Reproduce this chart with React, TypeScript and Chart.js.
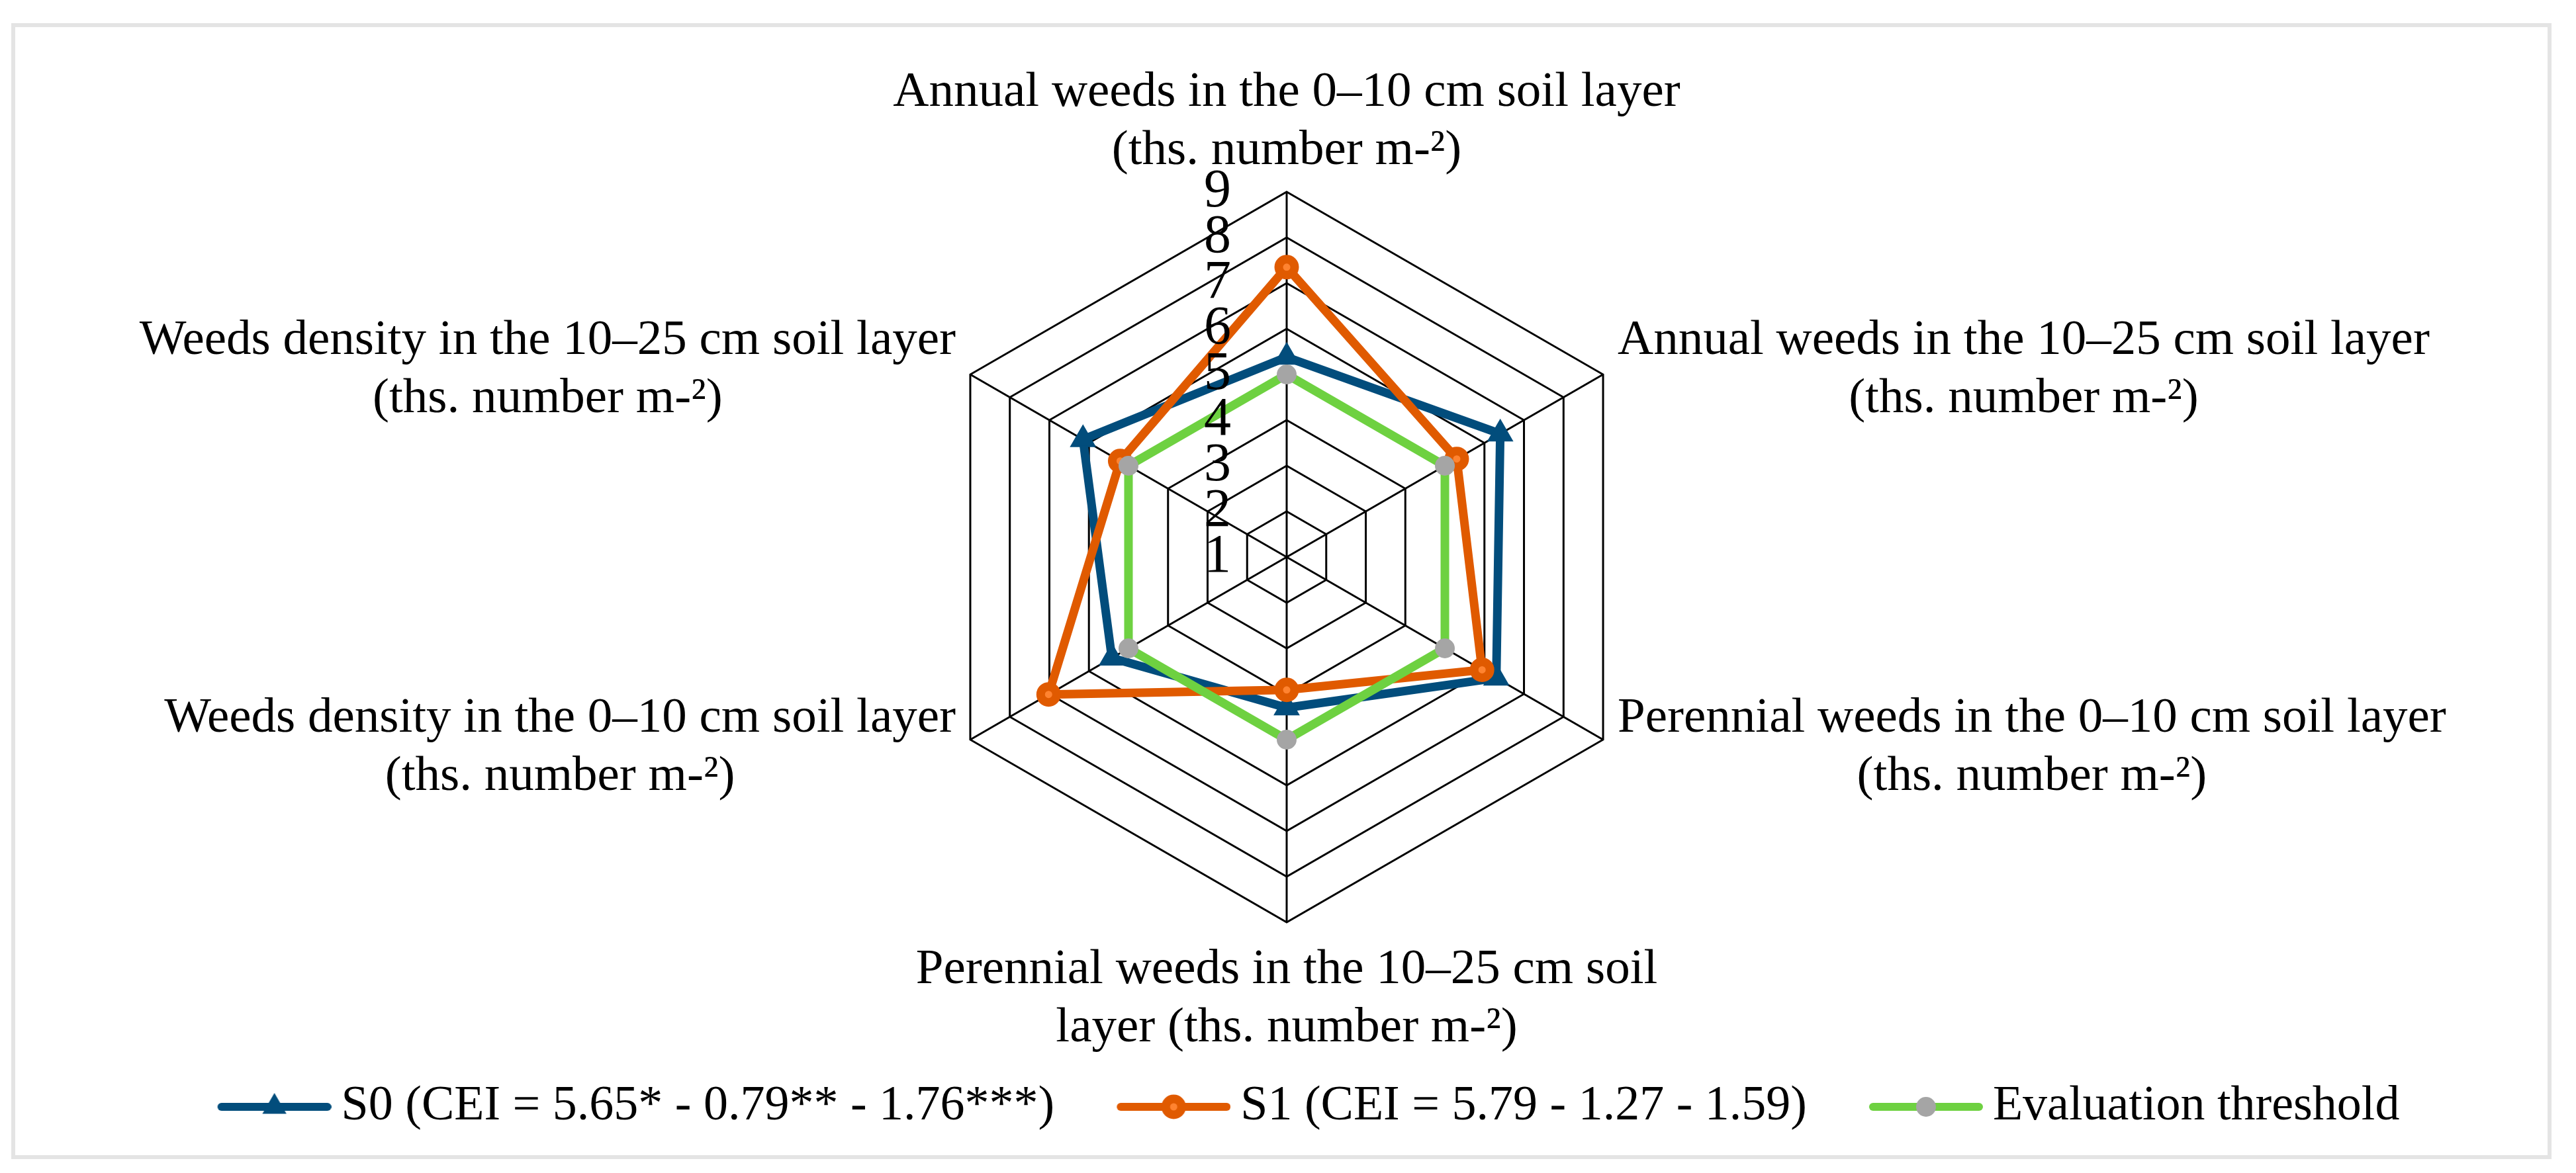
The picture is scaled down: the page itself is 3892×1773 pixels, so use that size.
import React, { useEffect, useRef } from "react";
import { Chart, registerables } from "chart.js";

Chart.register(...registerables);

// ---------- data ----------
const CATEGORY_LINES: string[][] = [
  ["Annual weeds in the 0–10 cm soil layer", "(ths. number m-²)"],
  ["Annual weeds in the 10–25 cm soil layer", "(ths. number m-²)"],
  ["Perennial weeds in the 0–10 cm soil layer", "(ths. number m-²)"],
  ["Perennial weeds in the 10–25 cm soil", "layer (ths. number m-²)"],
  ["Weeds density in the 0–10 cm soil layer", "(ths. number m-²)"],
  ["Weeds density in the 10–25 cm soil layer", "(ths. number m-²)"],
];
const S0_VALUES = [5.38, 6.4, 6.3, 4.3, 5.42, 6.15];
const S1_VALUES = [7.35, 5.3, 5.94, 3.91, 7.02, 5.21];
const THRESHOLD_VALUES = [5, 5, 5, 5, 5, 5];
const SERIES_NAMES = [
  "S0 (CEI = 5.65* - 0.79** - 1.76***)",
  "S1 (CEI = 5.79 - 1.27 - 1.59)",
  "Evaluation threshold",
];
const AXIS_MIN = 1;
const AXIS_MAX = 9;
const AXIS_STEP = 1;

// ---------- styles ----------
const FONT = '"Liberation Serif", "Times New Roman", serif';
const BLUE = "#024D7C";
const ORANGE = "#E05A00";
const ORANGE_LIGHT = "#FF8330";
const GREEN = "#6ED141";
const GRAY = "#A5A5A5";
const LABEL_SIZE = 75;
const LEGEND_SIZE = 74;
const TICK_SIZE = 82;
const LINE_H = 88;
const SERIES_LINE_W = 13;

// legend geometry
const LEG_PAD = -30;
const LEG_BOX = 274;
const ICON_W = 318;
const ICON_LINE_START = 146; // visible line from 146 to 318 in icon canvas

function makeIcon(kind: number): HTMLCanvasElement {
  const c = document.createElement("canvas");
  c.width = ICON_W;
  c.height = 48;
  const g = c.getContext("2d")!;
  const cy = 24;
  const x0 = ICON_LINE_START;
  const x1 = ICON_W;
  const color = kind === 0 ? BLUE : kind === 1 ? ORANGE : GREEN;
  g.strokeStyle = color;
  g.lineWidth = 12;
  g.lineCap = "round";
  g.beginPath();
  g.moveTo(x0 + 6, cy);
  g.lineTo(x1 - 6, cy);
  g.stroke();
  const cx = (x0 + x1) / 2;
  if (kind === 0) {
    const r = 21;
    g.fillStyle = BLUE;
    g.beginPath();
    g.moveTo(cx, cy - r);
    g.lineTo(cx + r * Math.sin((2 * Math.PI) / 3), cy - r * Math.cos((2 * Math.PI) / 3));
    g.lineTo(cx + r * Math.sin((4 * Math.PI) / 3), cy - r * Math.cos((4 * Math.PI) / 3));
    g.closePath();
    g.fill();
  } else if (kind === 1) {
    g.fillStyle = ORANGE_LIGHT;
    g.strokeStyle = ORANGE;
    g.lineWidth = 13;
    g.beginPath();
    g.arc(cx, cy, 12, 0, Math.PI * 2);
    g.fill();
    g.stroke();
  } else {
    g.fillStyle = GRAY;
    g.beginPath();
    g.arc(cx, cy, 15, 0, Math.PI * 2);
    g.fill();
  }
  return c;
}

const labelPlugin = {
  id: "customRadarLabels",
  afterDraw(chart: any) {
    const scale = chart.scales.r;
    const ctx: CanvasRenderingContext2D = chart.ctx;
    ctx.save();
    ctx.fillStyle = "#000";
    // tick labels, to the left of the top spoke
    ctx.font = `${TICK_SIZE}px ${FONT}`;
    ctx.textAlign = "right";
    ctx.textBaseline = "middle";
    scale.ticks.forEach((t: any) => {
      const p = scale.getPointPositionForValue(0, t.value);
      ctx.fillText(String(t.value), p.x - 84, p.y);
    });
    // category labels
    ctx.font = `${LABEL_SIZE}px ${FONT}`;
    ctx.textAlign = "center";
    ctx.textBaseline = "alphabetic";
    CATEGORY_LINES.forEach((lines, i) => {
      const v = scale.getPointPosition(i, scale.drawingArea);
      const maxW = Math.max(...lines.map((l) => ctx.measureText(l).width));
      let cx = v.x;
      let base = v.y;
      if (i === 0) {
        base = v.y - 42 - LINE_H * (lines.length - 1);
      } else if (i === 3) {
        base = v.y + 92;
      } else {
        const right = i === 1 || i === 2;
        const upper = i === 1 || i === 5;
        cx = right ? v.x + 22 + maxW / 2 : v.x - 22 - maxW / 2;
        base = upper ? v.y - 31 : v.y - 12;
      }
      lines.forEach((l, k) => ctx.fillText(l, cx, base + k * LINE_H));
    });
    ctx.restore();
  },
};

export default function App() {
  const ref = useRef<HTMLCanvasElement | null>(null);

  useEffect(() => {
    document.body.style.margin = "0";
    document.body.style.overflow = "hidden";
    const icons = [makeIcon(0), makeIcon(1), makeIcon(2)];
    const chart = new Chart(ref.current!, {
      type: "radar",
      data: {
        labels: CATEGORY_LINES.map((l) => l.join(" ")),
        datasets: [
          {
            label: SERIES_NAMES[0],
            data: S0_VALUES,
            borderColor: BLUE,
            backgroundColor: "transparent",
            fill: false,
            borderWidth: SERIES_LINE_W,
            borderJoinStyle: "round",
            pointStyle: "triangle",
            pointRadius: 21,
            pointBackgroundColor: BLUE,
            pointBorderColor: BLUE,
            pointBorderWidth: 2,
            order: 3,
          },
          {
            label: SERIES_NAMES[1],
            data: S1_VALUES,
            borderColor: ORANGE,
            backgroundColor: "transparent",
            fill: false,
            borderWidth: SERIES_LINE_W,
            borderJoinStyle: "round",
            pointStyle: "circle",
            pointRadius: 12,
            pointBackgroundColor: ORANGE_LIGHT,
            pointBorderColor: ORANGE,
            pointBorderWidth: 13,
            order: 2,
          },
          {
            label: SERIES_NAMES[2],
            data: THRESHOLD_VALUES,
            borderColor: GREEN,
            backgroundColor: "transparent",
            fill: false,
            borderWidth: SERIES_LINE_W,
            borderJoinStyle: "round",
            pointStyle: "circle",
            pointRadius: 15,
            pointBackgroundColor: GRAY,
            pointBorderColor: GRAY,
            pointBorderWidth: 0,
            order: 1,
          },
        ],
      },
      options: {
        animation: false,
        responsive: false,
        devicePixelRatio: 1,
        layout: { padding: { left: 234.6, right: 238.6, top: 290, bottom: 53 } },
        scales: {
          r: {
            min: AXIS_MIN,
            max: AXIS_MAX,
            beginAtZero: false,
            ticks: { display: false, stepSize: AXIS_STEP },
            pointLabels: { display: false },
            grid: { color: "#000", lineWidth: 3 },
            angleLines: { color: "#000", lineWidth: 3 },
          },
        },
        plugins: {
          tooltip: { enabled: false },
          legend: {
            position: "bottom",
            align: "start",
            title: { display: true, text: "", font: { size: 10, lineHeight: 1 }, padding: { top: 261, bottom: 0 } },
            labels: {
              usePointStyle: true,
              pointStyleWidth: LEG_BOX,
              padding: LEG_PAD,
              color: "#000",
              font: { family: FONT, size: LEGEND_SIZE },
              generateLabels: (c: any) =>
                c.data.datasets.map((ds: any, i: number) => ({
                  text: ds.label,
                  fillStyle: ds.borderColor,
                  strokeStyle: ds.borderColor,
                  lineWidth: 0,
                  pointStyle: icons[i],
                  hidden: false,
                  datasetIndex: i,
                  fontColor: "#000",
                })),
            },
          },
        },
      },
      plugins: [labelPlugin],
    } as any);
    return () => chart.destroy();
  }, []);

  return (
    <div style={{ position: "absolute", left: 0, top: 0, width: 3892, height: 1773, background: "#fff" }}>
      <div
        style={{
          position: "absolute",
          left: 17,
          top: 35,
          width: 3855 - 17,
          height: 1752 - 35,
          border: "6px solid #e4e4e4",
          boxSizing: "border-box",
        }}
      />
      <canvas
        ref={ref}
        width={3892}
        height={1773}
        style={{ position: "absolute", left: 0, top: 0, width: 3892, height: 1773 }}
      />
    </div>
  );
}
